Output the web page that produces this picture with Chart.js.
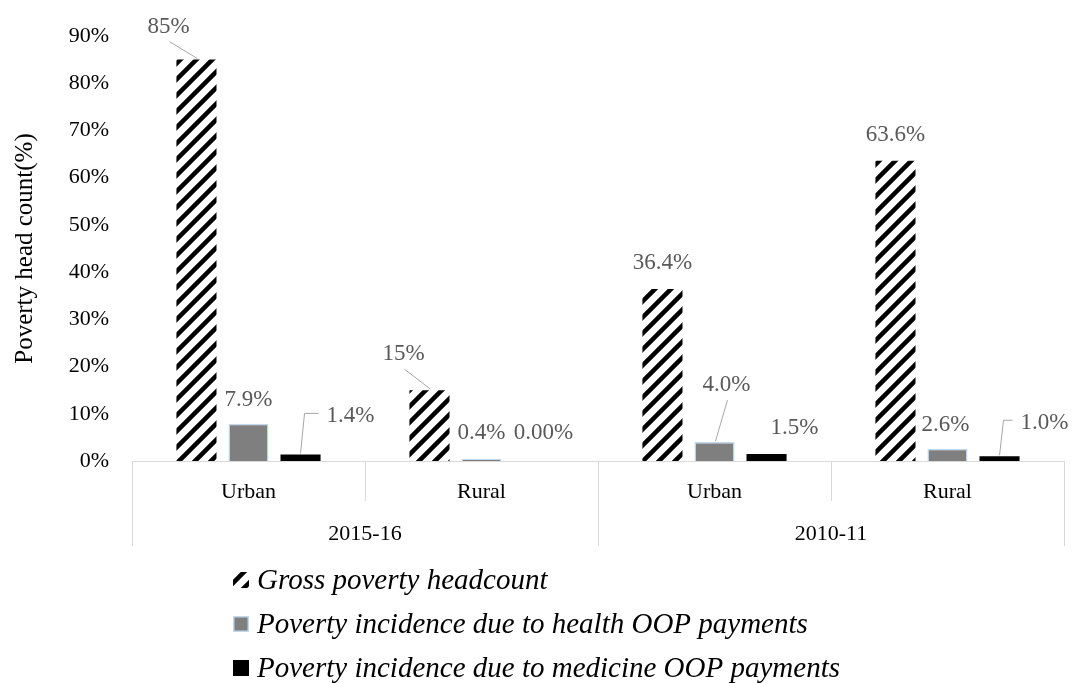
<!DOCTYPE html>
<html>
<head>
<meta charset="utf-8">
<script src="https://cdn.jsdelivr.net/npm/chart.js@4.4.0/dist/chart.umd.min.js"></script>
<style>
  html, body { margin: 0; padding: 0; background: #fff; }
  #wrap { width: 1073px; height: 683px; }
</style>
</head>
<body>
<div id="wrap"><canvas id="povertyChart" width="1073" height="683"></canvas></div>
<script>
// --- data ---
const areaLabels = ['Urban', 'Rural', 'Urban', 'Rural'];
const periodLabels = ['2015-16', '2010-11'];
const seriesNames = [
  'Gross poverty headcount',
  'Poverty incidence due to health OOP payments',
  'Poverty incidence due to medicine OOP payments'
];
const grossHeadcount = [85, 15, 36.4, 63.6];
const healthOOP = [7.9, 0.4, 4.0, 2.6];
const medicineOOP = [1.4, 0.0, 1.5, 1.0];
const grossText = ['85%', '15%', '36.4%', '63.6%'];
const healthText = ['7.9%', '0.4%', '4.0%', '2.6%'];
const medicineText = ['1.4%', '0.00%', '1.5%', '1.0%'];
const yMax = 90;
const yStep = 10;

const serif = '"Liberation Serif", "Times New Roman", serif';

const ctx = document.getElementById('povertyChart').getContext('2d');

// hatched fill like excel's wide upward diagonal
const hatch = ctx.createPattern((() => {
  const c = document.createElement('canvas');
  c.width = 16; c.height = 16;
  const g = c.getContext('2d');
  g.fillStyle = '#fff';
  g.fillRect(0, 0, 16, 16);
  g.strokeStyle = '#000';
  g.lineWidth = 4.5;
  g.beginPath();
  g.moveTo(-4, 20); g.lineTo(20, -4);
  g.moveTo(-12, 12); g.lineTo(12, -12);
  g.moveTo(4, 28); g.lineTo(28, 4);
  g.stroke();
  return c;
})(), 'repeat');

// where each value label sits relative to the top of its bar
const labelSpots = [
  [ {dx: -28, dy: -33, leader: 'line'}, {dx: -26, dy: -36, leader: 'line'},
    {dx: 0, dy: -26}, {dx: 0, dy: -26} ],
  [ {dx: 0, dy: -24}, {dx: 0, dy: -26}, {dx: 12, dy: -57, leader: 'line'}, {dx: -2, dy: -24} ],
  [ {dx: 50, dy: -38, leader: 'elbow'}, {dx: 10, dy: -28}, {dx: 28, dy: -26},
    {dx: 45, dy: -33, leader: 'elbow'} ]
];
const labelTexts = [grossText, healthText, medicineText];

const valueLabels = {
  id: 'valueLabels',
  afterDatasetsDraw(chart) {
    const c = chart.ctx;
    c.save();
    c.font = '23px ' + serif;
    c.textAlign = 'center';
    c.textBaseline = 'middle';
    chart.data.datasets.forEach((ds, i) => {
      const meta = chart.getDatasetMeta(i);
      meta.data.forEach((bar, j) => {
        const spot = labelSpots[i][j];
        const txt = labelTexts[i][j];
        const tx = bar.x + spot.dx, ty = bar.y + spot.dy;
        c.strokeStyle = '#a6a6a6';
        c.lineWidth = 1;
        if (spot.leader === 'line') {
          c.beginPath();
          c.moveTo(tx + 1, ty + 15);
          c.lineTo(bar.x + 1, bar.y - 1);
          c.stroke();
        } else if (spot.leader === 'elbow') {
          const w = c.measureText(txt).width;
          c.beginPath();
          c.moveTo(bar.x, bar.y - 1);
          c.lineTo(bar.x + 4, ty - 3);
          c.lineTo(tx - w / 2 - 8, ty - 3);
          c.stroke();
        }
        c.fillStyle = '#595959';
        c.fillText(txt, tx, ty);
      });
    });
    c.restore();
  }
};

const axisFrame = {
  id: 'axisFrame',
  afterDraw(chart) {
    const c = chart.ctx;
    const area = chart.chartArea;
    const n = areaLabels.length;
    const step = (area.right - area.left) / n;
    c.save();
    c.strokeStyle = '#d9d9d9';
    c.lineWidth = 1;
    for (let i = 0; i <= n; i++) {
      const x = Math.round(area.left + i * step) + 0.5;
      const len = (i % 2 === 0) ? 85 : 40;
      c.beginPath();
      c.moveTo(x, area.bottom);
      c.lineTo(x, area.bottom + len);
      c.stroke();
    }
    // legend, stacked, centred as a block
    c.font = 'italic 29px ' + serif;
    c.textBaseline = 'middle';
    c.textAlign = 'left';
    const box = 16, gap = 8;
    const widest = Math.max(...seriesNames.map(s => c.measureText(s).width));
    const left = Math.round((chart.width - (box + gap + widest)) / 2);
    const rows = [580, 624, 668];
    chart.data.datasets.forEach((ds, i) => {
      const y = rows[i];
      c.fillStyle = ds.backgroundColor;
      c.fillRect(left, y - 8, box, box);
      if (i === 1) {
        c.strokeStyle = '#bdd7ee';
        c.lineWidth = 1.5;
        c.strokeRect(left + 0.75, y - 7.25, box - 1.5, box - 1.5);
      }
      c.fillStyle = '#000';
      c.fillText(seriesNames[i], left + box + gap, y + 1);
    });
    c.restore();
  }
};

new Chart(ctx, {
  type: 'bar',
  data: {
    labels: areaLabels,
    datasets: [
      { label: seriesNames[0], data: grossHeadcount, backgroundColor: hatch, borderWidth: 0 },
      { label: seriesNames[1], data: healthOOP, backgroundColor: '#7f7f7f',
        borderColor: '#bdd7ee', borderWidth: 1.5 },
      { label: seriesNames[2], data: medicineOOP, backgroundColor: '#000000', borderWidth: 0 }
    ]
  },
  options: {
    responsive: false,
    animation: false,
    layout: { padding: { top: 36, right: 9, bottom: 132, left: 0 } },
    datasets: { bar: { categoryPercentage: 0.67, barPercentage: 0.77 } },
    plugins: { legend: { display: false }, tooltip: { enabled: false } },
    scales: {
      y: {
        min: 0, max: yMax,
        grid: { display: false },
        border: { display: false },
        ticks: {
          stepSize: yStep,
          padding: 15,
          color: '#000',
          font: { family: serif, size: 22 },
          callback: v => v + '%'
        },
        title: {
          display: true,
          text: 'Poverty head count(%)',
          color: '#000',
          font: { family: serif, size: 25 },
          padding: { top: 10, bottom: 0 }
        },
        afterFit: s => { s.width = 132; }
      },
      x: {
        grid: { display: false },
        border: { display: true, color: '#d9d9d9', width: 1 },
        ticks: { color: '#000', padding: 10, font: { family: serif, size: 22 } },
        afterFit: s => { s.height = 50; }
      },
      x2: {
        type: 'category',
        position: 'bottom',
        labels: periodLabels,
        offset: true,
        grid: { display: false },
        border: { display: false },
        ticks: { color: '#000', padding: 2, font: { family: serif, size: 22 } },
        afterFit: s => { s.height = 40; }
      }
    }
  },
  plugins: [valueLabels, axisFrame]
});
</script>
</body>
</html>
